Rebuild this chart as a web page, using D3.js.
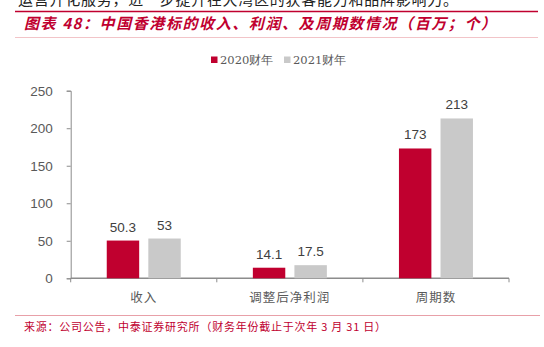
<!DOCTYPE html>
<html>
<head>
<meta charset="utf-8">
<script src="https://cdn.jsdelivr.net/npm/d3@7"></script>
<style>
  html, body { margin: 0; padding: 0; background: #fff; }
  svg { display: block; }
</style>
</head>
<body>
<svg id="chart" width="544" height="347"></svg>
<script>
// Categories and the two fiscal-year series (HK$ millions; count for 周期数)
const categories = ["收入", "调整后净利润", "周期数"];
const seriesNames = ["2020财年", "2021财年"];
const fy2020 = [50.3, 14.1, 173];
const fy2021 = [53, 17.5, 213];
const yTicks = [0, 50, 100, 150, 200, 250];

const colors = ["#C0002F", "#C9C9C9"];
const cjk = "'Noto Sans CJK SC', 'Noto Sans', sans-serif";
const latin = "Arial, 'Liberation Sans', sans-serif";

const svg = d3.select("#chart");

// Trailing line of the preceding paragraph, running off the top edge
svg.append("text")
  .attr("x", 18).attr("y", 4.5)
  .attr("font-family", cjk).attr("font-size", 15).attr("fill", "#222")
  .attr("textLength", 440).attr("lengthAdjust", "spacing")
  .text("运营开化服务，进一步提升在大湾区的获客能力和品牌影响力。");

// Header rules and title
svg.append("line").attr("x1", 15).attr("x2", 538).attr("y1", 11.5).attr("y2", 11.5)
  .attr("stroke", "#C0002F").attr("stroke-width", 1.5);
svg.append("line").attr("x1", 15).attr("x2", 538).attr("y1", 37.5).attr("y2", 37.5)
  .attr("stroke", "#F2C4C8").attr("stroke-width", 1);
svg.append("text")
  .attr("x", 24).attr("y", 29)
  .attr("font-family", cjk).attr("font-size", 15).attr("font-weight", "bold")
  .attr("font-style", "italic").attr("fill", "#C0002F")
  .attr("textLength", 472).attr("lengthAdjust", "spacing")
  .text("图表 48：中国香港标的收入、利润、及周期数情况（百万；个）");

// Scales
const x0 = d3.scaleBand().domain(categories).range([70.7, 509]).paddingInner(0).paddingOuter(0);
const x1 = d3.scaleBand().domain(seriesNames).range([0, 74]).paddingInner(0.22).paddingOuter(0);
const groupOffset = (x0.bandwidth() - 74) / 2;
const y = d3.scaleLinear().domain([0, 250]).range([278.3, 90.7]);

// Y axis
const yAxis = svg.append("g")
  .attr("transform", "translate(70.7,0)")
  .call(d3.axisLeft(y).tickValues(yTicks).tickSize(4).tickPadding(14).tickFormat(d3.format("d")));
yAxis.selectAll("path, line").attr("stroke", "#8C8C8C");
yAxis.selectAll("text").attr("font-family", latin).attr("font-size", 13.5).attr("fill", "#595959");

// X axis
const xAxis = svg.append("g")
  .attr("transform", "translate(0,278.3)")
  .call(d3.axisBottom(x0).tickSize(0).tickPadding(12));
xAxis.select("path").attr("stroke", "#8C8C8C").attr("stroke-width", 1.5)
  .attr("d", "M70.7,0H509");
xAxis.selectAll("text").attr("font-family", cjk).attr("font-size", 12.5).attr("fill", "#595959")
  .attr("dy", "0.9em").attr("letter-spacing", "1px");
// category separators
const sepX = [x0.range()[0], ...categories.map(c => x0(c) + x0.bandwidth())];
xAxis.selectAll("line.sep").data(sepX).enter().append("line")
  .attr("class", "sep")
  .attr("x1", d => d).attr("x2", d => d).attr("y1", 0).attr("y2", 4)
  .attr("stroke", "#8C8C8C");

// Bars and value labels
const rows = categories.map((c, i) => ({ cat: c, vals: [fy2020[i], fy2021[i]] }));
const groups = svg.selectAll("g.grp").data(rows).enter().append("g")
  .attr("class", "grp")
  .attr("transform", d => `translate(${x0(d.cat) + groupOffset},0)`);

groups.selectAll("rect").data(d => d.vals.map((v, j) => ({ v, s: seriesNames[j], j })))
  .enter().append("rect")
  .attr("x", d => x1(d.s)).attr("width", x1.bandwidth())
  .attr("y", d => y(d.v)).attr("height", d => y(0) - y(d.v))
  .attr("fill", d => colors[d.j]);

groups.selectAll("text.val").data(d => d.vals.map((v, j) => ({ v, s: seriesNames[j], j })))
  .enter().append("text")
  .attr("class", "val")
  .attr("x", d => x1(d.s) + x1.bandwidth() / 2)
  .attr("y", d => y(d.v) - 9)
  .attr("text-anchor", "middle")
  .attr("font-family", latin).attr("font-size", 13.5).attr("fill", "#404040")
  .text(d => d.v);

// Legend
const legendX = [211, 284];
seriesNames.forEach((s, i) => {
  svg.append("rect").attr("x", legendX[i]).attr("y", 56.5).attr("width", 6.5).attr("height", 6.5)
    .attr("fill", colors[i]);
  svg.append("text").attr("x", legendX[i] + 9).attr("y", 64)
    .attr("font-family", "'DejaVu Serif', serif").attr("font-size", 11.5).attr("fill", "#595959")
    .text(s);
});

// Footer rule and source note
svg.append("line").attr("x1", 15).attr("x2", 540).attr("y1", 315.5).attr("y2", 315.5)
  .attr("stroke", "#E8A0A8").attr("stroke-width", 1);
svg.append("text").attr("x", 24).attr("y", 331)
  .attr("font-family", cjk).attr("font-size", 11).attr("fill", "#C0002F")
  .attr("textLength", 362).attr("lengthAdjust", "spacing")
  .text("来源：公司公告，中泰证券研究所（财务年份截止于次年 3 月 31 日）");
</script>
</body>
</html>
